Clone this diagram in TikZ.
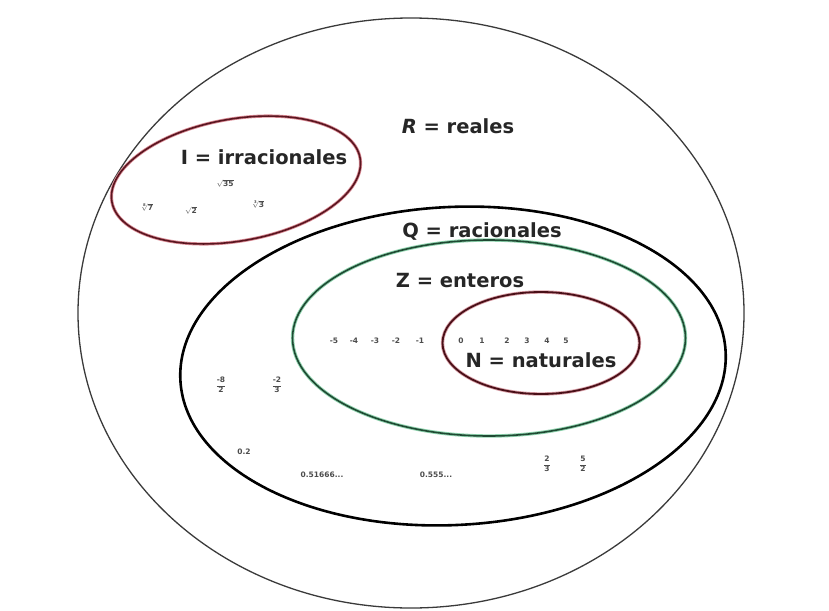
\documentclass[tikz,border=0pt]{standalone}
\usepackage{amsmath}
\usepackage{fontspec}
\setmainfont{DejaVu Sans}
\usetikzlibrary{shapes.geometric}
\definecolor{ringgray}{HTML}{3A3A3A}
\definecolor{irred}{HTML}{5A1620}
\definecolor{irhalo}{HTML}{D98A94}
\definecolor{zgreen}{HTML}{1F4A33}
\definecolor{zhalo}{HTML}{8FD3AE}
\definecolor{nred}{HTML}{4A1018}
\definecolor{nhalo}{HTML}{D9A0A8}
\newcommand{\nm}[1]{\text{\bfseries #1}}
\tikzset{
  setring/.style={draw, ellipse, inner sep=0pt},
  lbl/.style={font=\bfseries\fontsize{19.5}{21}\selectfont, text=black!85, inner sep=0pt},
  tiny/.style={font=\bfseries\fontsize{7.5}{8}\selectfont, text=black!70, inner sep=0pt},
}
\begin{document}
\begin{tikzpicture}[x=1pt,y=-1pt]
\useasboundingbox (0,0) rectangle (829,610);
% outer set R
\node[setring, draw=ringgray, line width=1.3pt, minimum width=666, minimum height=590] (R) at (411,313) {};
% I irracionales
\node[setring, draw=irhalo, line width=3.2pt, rotate=10, minimum width=252, minimum height=122] (Ih) at (236,180) {};
\node[setring, draw=irred, line width=1.6pt, rotate=10, minimum width=252, minimum height=122] (I) at (236,180) {};
% Q racionales
\node[setring, draw=black, line width=2.6pt, rotate=3, minimum width=546, minimum height=318] (Q) at (453,366) {};
% Z enteros
\node[setring, draw=zhalo, line width=3.4pt, minimum width=393, minimum height=196] (Zh) at (489,338) {};
\node[setring, draw=zgreen, line width=1.6pt, minimum width=393, minimum height=196] (Z) at (489,338) {};
% N naturales
\node[setring, draw=nhalo, line width=3.4pt, minimum width=197, minimum height=102] (Nh) at (541,343) {};
\node[setring, draw=nred, line width=1.8pt, minimum width=197, minimum height=102] (N) at (541,343) {};
% labels
\node[lbl] (Rl) at (458,126) {\itshape R\upshape{} = reales};
\node[lbl] (Il) at (264,157) {I = irracionales};
\node[lbl] (Ql) at (482,232) {Q = racionales};
\node[lbl] (Zl) at (460,281) {Z = enteros};
\node[lbl] (Nl) at (541,360) {N = naturales};
% irrationals
\node[tiny] (s35) at (225,183) {$\sqrt{\nm{35}}$};
\node[tiny] (s7) at (147,207) {$\sqrt[\nm{8}]{\nm{7}}$};
\node[tiny] (s2) at (191,210) {$\sqrt{\nm{2}}$};
\node[tiny] (s3) at (258,204) {$\sqrt[\nm{3}]{\nm{3}}$};
% integers
\foreach \v/\xx in {-5/334,-4/354,-3/375,-2/396,-1/420,0/461,1/482,2/507,3/527,4/547,5/566}
  \node[tiny] (int\xx) at (\xx,341) {\v};
% rationals
\node[tiny] (f1) at (221,385) {$\dfrac{\nm{-8}}{\nm{2}}$};
\node[tiny] (f2) at (277,385) {$\dfrac{\nm{-2}}{\nm{3}}$};
\node[tiny] (d1) at (244,452) {0.2};
\node[tiny] (d2) at (322,475) {0.51666...};
\node[tiny] (d3) at (436,475) {0.555...};
\node[tiny] (f3) at (547,464) {$\dfrac{\nm{2}}{\nm{3}}$};
\node[tiny] (f4) at (583,464) {$\dfrac{\nm{5}}{\nm{2}}$};
\end{tikzpicture}
\end{document}
